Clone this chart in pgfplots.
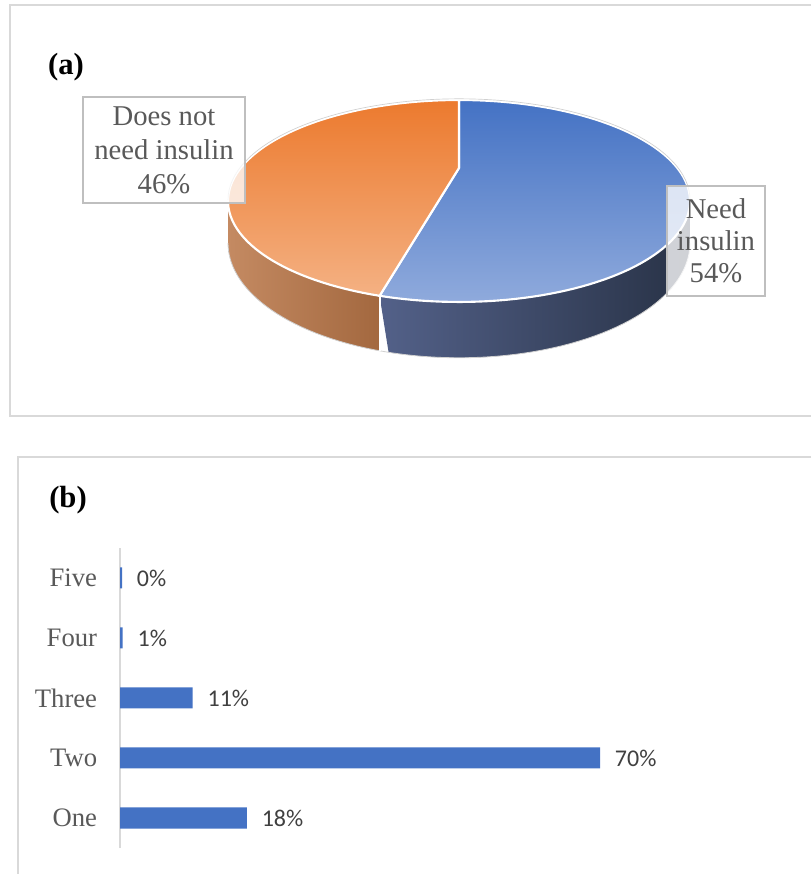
\documentclass[border=0pt]{standalone}
\usepackage{pgfplots}
\usepackage{pgfplotstable}
\pgfplotsset{compat=1.18}
\usepackage{fontspec}
\setmainfont{Liberation Serif}
\newfontfamily\calibri{Carlito}
\definecolor{blueTop}{HTML}{4472C4}
\definecolor{blueBot}{HTML}{8FAADC}
\definecolor{orTop}{HTML}{EC7A2E}
\definecolor{orBot}{HTML}{F4B183}
\definecolor{sideBL}{HTML}{536189}
\definecolor{sideBR}{HTML}{283246}
\definecolor{sideOL}{HTML}{C48A62}
\definecolor{sideOR}{HTML}{A3683F}
\definecolor{framegray}{HTML}{D9D9D9}
\definecolor{boxgray}{HTML}{BFBFBF}
\definecolor{labgray}{HTML}{595959}
\definecolor{numgray}{HTML}{404040}
\definecolor{barblue}{HTML}{4472C4}
\definecolor{outl}{HTML}{D0D0D0}

% pie data (percent)
\def\needv{54}
\def\noneedv{46}

% bar data: position, bar length, printed label
\pgfplotstableread{
pos val lab
0 18.5 18
1 70.0 70
2 10.6 11
3 0.4 1
4 0.3 0
}\bardata

\begin{document}
\begin{tikzpicture}[x=0.75pt,y=0.75pt]
\pgfmathsetmacro\cut{3.6*\needv}
\pgfmathsetmacro\sil{acos(-1/3.06)}
\pgfmathsetmacro\sir{360-\sil}
% frames
\draw[framegray, line width=1.1pt] (811,869) -- (10,869) -- (10,458) -- (811,458);
\draw[framegray, line width=1.1pt] (811,417) -- (18,417) -- (18,0);

\begin{axis}[at={(0pt,0pt)}, anchor=south west, x=0.75pt, y=0.75pt,
  xmin=0, xmax=811, ymin=0, ymax=874, scale only axis, hide axis, clip=false,
  declare function={
    pw(\t)=3.06+cos(\t);
    PX(\t)=459+668*sin(\t)/pw(\t);
    PY(\t)=706+276*cos(\t)/pw(\t);
    PB(\t)=PY(\t)-115/pw(\t);
    phiB(\s)=\sil+(\cut-\sil)*(1-abs(1-\s));
    phiO(\s)=\cut+(\sir-\cut)*(1-abs(1-\s));
  }]
% sides
\addplot[draw=none, left color=sideBL, right color=sideBR, domain=0:2, samples=101]
  ({PX(phiB(x))},{PY(phiB(x))-(x>1)*115/pw(phiB(x))});
\addplot[draw=none, left color=sideOL, right color=sideOR, domain=0:2, samples=101]
  ({PX(phiO(x))},{PY(phiO(x))-(x>1)*115/pw(phiO(x))});
% outer thin outline
\addplot[draw=outl, line width=0.6pt, domain=\sil:\sir, samples=80] ({PX(x)},{PB(x)});
% top slices
\addplot[draw=white, line width=1.6pt, top color=blueTop, bottom color=blueBot, domain=0:\cut, samples=120]
  ({PX(x)},{PY(x)}) -- (axis cs:459,706) -- cycle;
\addplot[draw=white, line width=1.6pt, top color=orTop, bottom color=orBot, domain=\cut:360, samples=100]
  ({PX(x)},{PY(x)}) -- (axis cs:459,706) -- cycle;
% side divider
\addplot[draw=white, line width=1.6pt, domain=0:1, samples=2] ({PX(\cut)},{PY(\cut)-x*115/pw(\cut)});
% far rim outline
\addplot[draw=outl, line width=0.5pt, domain=-\sil:\sil, samples=80] ({PX(x)},{PY(x)+1.2});

% labels
\node[draw=boxgray, line width=1.1pt, fill=white, fill opacity=0.78, text opacity=1,
  minimum width=121.5pt, minimum height=79.5pt, align=center, text=labgray,
  font=\fontsize{21.5}{25.5}\selectfont] at (axis cs:164,724) {Does not\\need insulin\\46\%};
\node[draw=boxgray, line width=1.1pt, fill=white, fill opacity=0.78, text opacity=1,
  minimum width=73.5pt, minimum height=82.5pt, align=center, text=labgray,
  font=\fontsize{21.5}{24}\selectfont] at (axis cs:716,633) {Need\\insulin\\54\%};
\node[font=\fontsize{23}{26}\selectfont\bfseries] at (axis cs:66,807) {(a)};
\node[font=\fontsize{23}{26}\selectfont\bfseries] at (axis cs:68,374) {(b)};
\end{axis}

\begin{axis}[at={(90pt,19.5pt)}, anchor=south west, x=5.143pt, y=45pt,
  xmin=0, xmax=90, ymin=-0.5, ymax=4.5, scale only axis, clip=false,
  xbar, bar width=15.75pt,
  hide x axis, axis y line*=left,
  y axis line style={draw=framegray, line width=1.1pt},
  ytick={0,1,2,3,4}, yticklabels={One,Two,Three,Four,Five},
  major tick length=0pt,
  yticklabel style={font=\fontsize{20}{24}\selectfont, text=labgray, inner sep=0pt, xshift=-17pt},
  point meta=explicit symbolic,
  nodes near coords={\pgfplotspointmeta\%},
  nodes near coords style={font=\calibri\fontsize{18}{21}\selectfont, text=numgray, anchor=west, inner sep=0pt, xshift=11pt},
  ]
\addplot[fill=barblue, draw=none] table[x=val, y=pos, meta=lab] {\bardata};
\end{axis}
\pgfresetboundingbox
\path (0,0) rectangle (811,874);
\end{tikzpicture}
\end{document}
